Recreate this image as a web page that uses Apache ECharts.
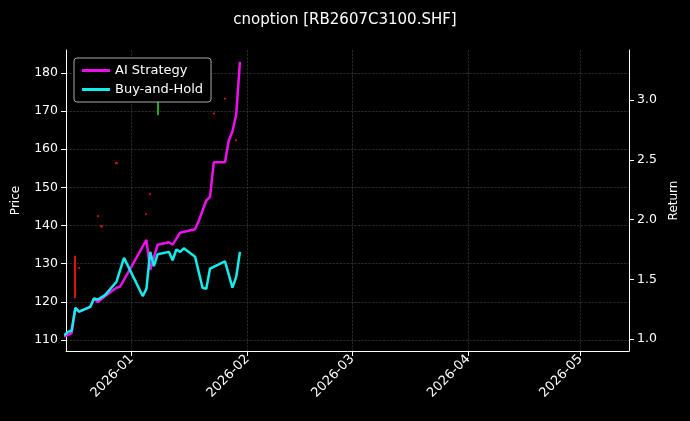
<!DOCTYPE html>
<html><head><meta charset="utf-8">
<script src="https://cdn.jsdelivr.net/npm/echarts@6/dist/echarts.min.js"></script>
<style>html,body{margin:0;background:#000}#c{width:690px;height:421px}</style>
</head><body><div id="c"></div>
<script>
const aiDates=["2025-12-14","2025-12-16","2025-12-17","2025-12-18","2025-12-21","2025-12-22","2025-12-23","2025-12-25","2025-12-28","2025-12-29","2026-01-05","2026-01-06","2026-01-08","2026-01-11","2026-01-12","2026-01-14","2026-01-18","2026-01-19","2026-01-21","2026-01-22","2026-01-23","2026-01-26","2026-01-27","2026-01-28","2026-01-29","2026-01-30"];
const aiReturn=[1.02,1.05,1.26,1.23,1.27,1.34,1.31,1.36,1.43,1.44,1.83,1.58,1.79,1.81,1.79,1.89,1.92,1.99,2.16,2.19,2.48,2.48,2.66,2.74,2.88,3.32];
const bhDates=["2025-12-14","2025-12-15","2025-12-16","2025-12-17","2025-12-18","2025-12-21","2025-12-22","2025-12-23","2025-12-25","2025-12-28","2025-12-30","2026-01-04","2026-01-05","2026-01-06","2026-01-07","2026-01-08","2026-01-11","2026-01-12","2026-01-13","2026-01-14","2026-01-15","2026-01-18","2026-01-20","2026-01-21","2026-01-22","2026-01-26","2026-01-28","2026-01-29","2026-01-30"];
const bhReturn=[1.03,1.06,1.07,1.26,1.23,1.27,1.34,1.33,1.37,1.48,1.68,1.36,1.42,1.73,1.61,1.71,1.73,1.66,1.75,1.73,1.76,1.69,1.43,1.42,1.59,1.65,1.43,1.52,1.73];
// candles: date, open, close, low, high
const candleDates=["2025-12-14","2025-12-17","2026-01-08","2025-12-18","2025-12-23","2025-12-24","2025-12-28","2026-01-05","2026-01-06","2026-01-23","2026-01-26","2026-01-29"];
const candleOHLC=[[110,106,106,110],[132,121,121,132],[169,173,169,173],[129,128.7,128.7,129],[142.6,142.3,142.3,142.6],[139.9,139.6,139.6,139.9],[156.5,156.2,156.2,156.5],[143.1,142.8,142.8,143.1],[148.4,148.1,148.1,148.4],[169.5,169.2,169.2,169.5],[173.4,173.1,173.1,173.4],[162.5,162.2,162.2,162.5]];
const priceTicks=[110,120,130,140,150,160,170,180];
const returnTicks=[1.0,1.5,2.0,2.5,3.0];

const ts=d=>new Date(d+"T00:00:00").getTime();
const chart=echarts.init(document.getElementById('c'));
const axisCol='#fff';
chart.setOption({
  backgroundColor:'#000',
  animation:false,
  textStyle:{fontFamily:'DejaVu Sans'},
  title:{text:'cnoption [RB2607C3100.SHF]',left:'center',top:8,textStyle:{color:'#fff',fontSize:15,fontWeight:'normal',fontFamily:'DejaVu Sans'}},
  legend:{left:74,top:58,orient:'vertical',itemGap:6,itemWidth:28,itemHeight:3,padding:[6,8],
    borderColor:'#aaa',borderWidth:1,borderRadius:3,backgroundColor:'#000',
    textStyle:{color:'#fff',fontSize:13},
    data:[{name:'AI Strategy',icon:'rect'},{name:'Buy-and-Hold',icon:'rect'}]},
  grid:{left:66,right:61,top:50,bottom:70},
  xAxis:{type:'time',min:ts("2025-12-14")+12*3600e3,max:ts("2026-05-14"),minInterval:28*86400e3,
    axisLine:{lineStyle:{color:axisCol}},axisTick:{length:5,lineStyle:{color:axisCol}},
    axisLabel:{rotate:45,color:'#fff',fontSize:13,margin:6,showMinLabel:false,showMaxLabel:false,formatter:v=>echarts.time.format(v,'{yyyy}-{MM}')},
    splitLine:{show:true,lineStyle:{color:'#444',type:'dashed',width:0.6}}},
  yAxis:[
    {type:'value',min:107.1,max:186,name:'Price',nameLocation:'middle',nameGap:44,nameTextStyle:{color:'#fff',fontSize:12},
     axisLine:{show:true,lineStyle:{color:axisCol}},axisTick:{show:true,customValues:priceTicks,lineStyle:{color:axisCol}},
     axisLabel:{customValues:priceTicks,color:'#fff',fontSize:12.5},
     splitLine:{show:true,lineStyle:{color:'#444',type:'dashed',width:0.6}}},
    {type:'value',min:0.9,max:3.42,name:'Return',nameLocation:'middle',nameGap:36,nameTextStyle:{color:'#fff',fontSize:12},
     axisLine:{show:true,lineStyle:{color:axisCol}},axisTick:{show:true,customValues:returnTicks,lineStyle:{color:axisCol}},
     axisLabel:{customValues:returnTicks,color:'#fff',fontSize:12.5,formatter:v=>v.toFixed(1)},
     splitLine:{show:false}}
  ],
  series:[
    {type:'candlestick',yAxisIndex:0,barWidth:1.6,
     itemStyle:{color:'#22aa22',color0:'#dd1111',borderColor:'#22aa22',borderColor0:'#dd1111',borderWidth:1},
     data:candleDates.map((d,i)=>[ts(d)].concat(candleOHLC[i]))},
    {name:'AI Strategy',type:'line',yAxisIndex:1,showSymbol:false,lineStyle:{color:'#ee11ee',width:2.5},itemStyle:{color:'#ee11ee'},
     data:aiDates.map((d,i)=>[ts(d),aiReturn[i]])},
    {name:'Buy-and-Hold',type:'line',yAxisIndex:1,showSymbol:false,lineStyle:{color:'#11eeee',width:2.5},itemStyle:{color:'#11eeee'},
     data:bhDates.map((d,i)=>[ts(d),bhReturn[i]])}
  ]
});
</script></body></html>
